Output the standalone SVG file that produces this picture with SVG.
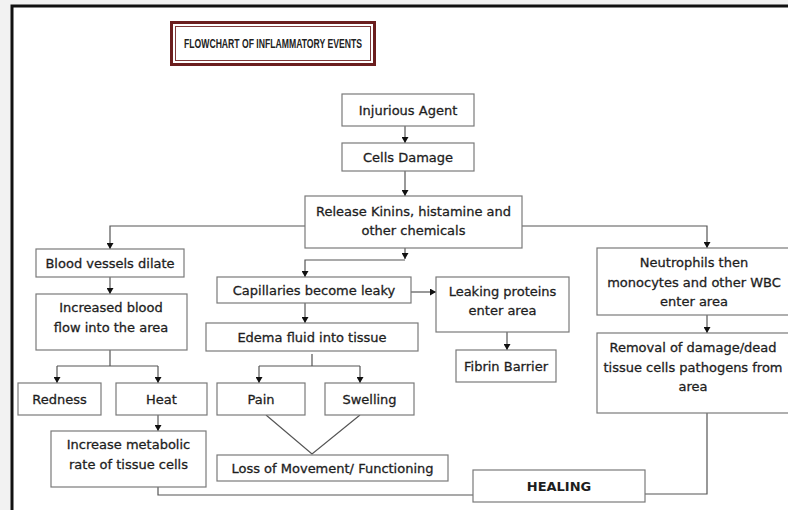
<svg xmlns="http://www.w3.org/2000/svg" width="788" height="510" viewBox="0 0 788 510">
<defs>
<marker id="ah" markerWidth="6" markerHeight="7" refX="6" refY="3.5" orient="auto" markerUnits="userSpaceOnUse">
<path d="M0,0 L6,3.5 L0,7 Z" fill="#111"/>
</marker>
<style>
.box{fill:#fff;stroke:#7a7a7a;stroke-width:1.2}
.t{font-family:"DejaVu Sans",Verdana,sans-serif;font-size:13px;fill:#1e1e1e;stroke:#1e1e1e;stroke-width:0.3;text-anchor:middle}
.b{font-weight:bold;stroke-width:0}
.c{fill:none;stroke:#555;stroke-width:1.2}
.a{marker-end:url(#ah)}
</style>
</defs>
<rect x="0" y="0" width="788" height="510" fill="#f2f2f2"/>
<rect x="12" y="6" width="790" height="520" fill="#fff" stroke="#111" stroke-width="3"/>

<g id="title">
<rect x="171.5" y="22.5" width="203" height="42" fill="#fff" stroke="#6b1e1e" stroke-width="3"/>
<rect x="175.5" y="26.5" width="195" height="34" fill="none" stroke="#7e3a3a" stroke-width="1"/>
<text x="273" y="48" font-family="Liberation Sans, Arial, sans-serif" font-weight="bold" font-size="13.5" fill="#222" text-anchor="middle" textLength="178" lengthAdjust="spacingAndGlyphs">FLOWCHART OF INFLAMMATORY EVENTS</text>
</g>

<g id="connectors">
<path class="c a" d="M405,126 V143"/>
<path class="c a" d="M405,171 V196"/>
<path class="c a" d="M305,226 H110 V249"/>
<path class="c a" d="M522,226 H707 V248"/>
<path class="c a" d="M405,248 V259"/>
<path class="c a" d="M405,260 H305 V277"/>
<path class="c a" d="M411,292 H436"/>
<path class="c a" d="M305,303 V323"/>
<path class="c a" d="M507,332 V350"/>
<path class="c a" d="M110,277 V294"/>
<path class="c" d="M110,350 V366 M57,366 H158"/>
<path class="c a" d="M57,366 V383"/>
<path class="c a" d="M158,366 V383"/>
<path class="c a" d="M158,415 V431"/>
<path class="c" d="M158,487 V495 H473"/>
<path class="c" d="M312,354 V366 M259,366 H360"/>
<path class="c a" d="M259,366 V383"/>
<path class="c a" d="M360,366 V383"/>
<path class="c" d="M266,415 L312,454 L360,415"/>
<path class="c a" d="M707,315 V333"/>
<path class="c" d="M707,413 V494 H645"/>
</g>

<g id="injurious"><rect class="box" x="342" y="94" width="132" height="32"/><text class="t" x="408" y="114.5">Injurious Agent</text></g>
<g id="cells"><rect class="box" x="342" y="143" width="132" height="28"/><text class="t" x="408" y="161.5">Cells Damage</text></g>
<g id="release"><rect class="box" x="305" y="196" width="217" height="52"/><text class="t" x="413.5" y="215.5">Release Kinins, histamine and</text><text class="t" x="413.5" y="235">other chemicals</text></g>
<g id="blood"><rect class="box" x="36" y="249" width="148" height="28"/><text class="t" x="110" y="267.5">Blood vessels dilate</text></g>
<g id="increased"><rect class="box" x="36" y="294" width="151" height="56"/><text class="t" x="111" y="311.5">Increased blood</text><text class="t" x="111" y="331.5">flow into the area</text></g>
<g id="redness"><rect class="box" x="18" y="383" width="83" height="32"/><text class="t" x="59.5" y="403.5">Redness</text></g>
<g id="heat"><rect class="box" x="116" y="383" width="91" height="32"/><text class="t" x="161.5" y="403.5">Heat</text></g>
<g id="metabolic"><rect class="box" x="51" y="431" width="155" height="56"/><text class="t" x="128.5" y="448.5">Increase metabolic</text><text class="t" x="128.5" y="468.5">rate of tissue cells</text></g>
<g id="capillaries"><rect class="box" x="217" y="277" width="194" height="26"/><text class="t" x="314" y="294.5">Capillaries become leaky</text></g>
<g id="leaking"><rect class="box" x="436" y="277" width="133" height="55"/><text class="t" x="502.5" y="295.5">Leaking proteins</text><text class="t" x="502.5" y="315">enter area</text></g>
<g id="fibrin"><rect class="box" x="456" y="350" width="100" height="32"/><text class="t" x="506" y="370.5">Fibrin Barrier</text></g>
<g id="edema"><rect class="box" x="206" y="323" width="212" height="28"/><text class="t" x="312" y="341.5">Edema fluid into tissue</text></g>
<g id="pain"><rect class="box" x="217" y="383" width="88" height="32"/><text class="t" x="261" y="403.5">Pain</text></g>
<g id="swelling"><rect class="box" x="325" y="383" width="89" height="32"/><text class="t" x="369.5" y="403.5">Swelling</text></g>
<g id="loss"><rect class="box" x="217" y="455" width="231" height="26"/><text class="t" x="332.5" y="472.5">Loss of Movement/ Functioning</text></g>
<g id="healing"><rect class="box" x="473" y="470" width="172" height="32"/><text class="t b" x="559" y="490.5" font-size="12">HEALING</text></g>
<g id="neutrophils"><rect class="box" x="597" y="248" width="200" height="67"/><text class="t" x="694" y="266.5">Neutrophils then</text><text class="t" x="694" y="286.5">monocytes and other WBC</text><text class="t" x="694" y="306">enter area</text></g>
<g id="removal"><rect class="box" x="597" y="333" width="200" height="80"/><text class="t" x="693" y="352">Removal of damage/dead</text><text class="t" x="693" y="371.5">tissue cells pathogens from</text><text class="t" x="693" y="391">area</text></g>
</svg>
